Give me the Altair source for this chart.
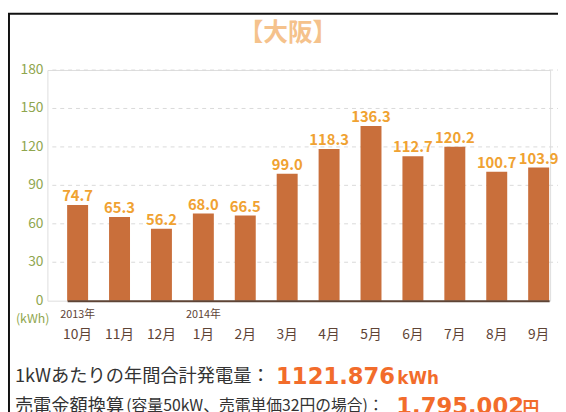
import altair as alt
import pandas as pd

months = ["10月", "11月", "12月", "1月", "2月", "3月", "4月", "5月", "6月", "7月", "8月", "9月"]
values = [74.7, 65.3, 56.2, 68.0, 66.5, 99.0, 118.3, 136.3, 112.7, 120.2, 100.7, 103.9]
y_ticks = [0, 30, 60, 90, 120, 150, 180]
grid_ticks = [30, 60, 90, 120, 150, 180]
year_months = ["10月", "1月"]
year_labels = ["2013年", "2014年"]
title_text = "【大阪】"
unit_text = "(kWh)"
line1_label = "1kWあたりの年間合計発電量："
line1_value = "1121.876"
line1_unit = "kWh"
line2_label = "売電金額換算"
line2_note = "(容量50kW、売電単価32円の場合)："
line2_value = "1,795,002"
line2_unit = "円"

FONT = "Noto Sans CJK JP"
NUMFONT = "DejaVu Sans"
BAR = "#C96F3B"
LABEL = "#F0A232"
GREEN = "#8FA64E"
BROWN = "#5E4436"
HILITE = "#F26C2B"

df = pd.DataFrame({"month": months, "value": values})
ydf = pd.DataFrame({"month": year_months, "year": year_labels})
gdf = pd.DataFrame({"tick": grid_ticks})
tdf = pd.DataFrame({"tick": y_ticks})
one = pd.DataFrame({"k": [0]})

xscale = alt.Scale(domain=months, range=[20, 509], paddingInner=0.5, paddingOuter=0)
yscale = alt.Scale(domain=[0, 180])

base = alt.Chart(df)

grid = alt.Chart(gdf).mark_rule(color="#D9D9D9", strokeDash=[4, 4], strokeWidth=1).encode(
    y=alt.Y("tick:Q", scale=yscale, axis=None),
    x=alt.value(5), x2=alt.value(518),
)

ylabels = alt.Chart(tdf).mark_text(color=GREEN, fontSize=14, font=FONT, align="right",
                                   baseline="middle").encode(
    y=alt.Y("tick:Q", scale=yscale, axis=None),
    x=alt.value(-4),
    text=alt.Text("tick:Q", format="d"),
)

bars = base.mark_bar(color=BAR).encode(
    x=alt.X("month:N", sort=months, scale=xscale,
            axis=alt.Axis(title=None, labelAngle=0, ticks=False, domainColor=BROWN,
                          domainWidth=2, labelColor=BROWN, labelFontSize=14,
                          labelFont=FONT, labelPadding=27, grid=False, zindex=1)),
    y=alt.Y("value:Q", scale=yscale, axis=None),
)

labels = base.mark_text(color=LABEL, fontSize=15, fontWeight="bold", font=FONT,
                        baseline="alphabetic", dy=-4).encode(
    x=alt.X("month:N", sort=months, scale=xscale),
    y=alt.Y("value:Q", scale=yscale),
    text=alt.Text("value:Q", format=".1f"),
)

years = alt.Chart(ydf).mark_text(color=BROWN, fontSize=11, font=FONT, baseline="middle").encode(
    x=alt.X("month:N", sort=months, scale=xscale),
    y=alt.value(249),
    text="year:N",
)

def txt(s, x, y, size, color, weight="normal", align="left", baseline="middle", font=FONT):
    return alt.Chart(pd.DataFrame({"t": [s]})).mark_text(
        fontSize=size, color=color, fontWeight=weight, font=font, align=align, baseline=baseline
    ).encode(x=alt.value(x), y=alt.value(y), text="t:N")

title = txt(title_text, 244, -37, 25, "#F5C28C", "bold", "center")
unit = txt(unit_text, -15, 253, 12.5, GREEN, "normal", "center")
l1a = txt(line1_label, -33, 311, 18.5, "#333333")
l1b = txt(line1_value, 232, 312, 23, HILITE, "bold", font=NUMFONT)
l1c = txt(line1_unit, 355, 314, 17, HILITE, "bold", font=NUMFONT)
l2a = txt(line2_label, -33, 341, 18.5, "#333333")
l2n = txt(line2_note, 80, 341, 16, "#333333")
l2b = txt(line2_value, 354, 342, 23, HILITE, "bold", font=NUMFONT)
l2c = txt(line2_unit, 482, 344, 17, HILITE, "bold")

border_top = alt.Chart(one).mark_rule(color="#111111", strokeWidth=2).encode(
    x=alt.value(-40), x2=alt.value(600), y=alt.value(-57))
border_left = alt.Chart(one).mark_rule(color="#111111", strokeWidth=2).encode(
    x=alt.value(-39), y=alt.value(-57), y2=alt.value(400))

chart = alt.layer(
    grid, ylabels, bars, labels, years, title, unit, l1a, l1b, l1c, l2a, l2n, l2b, l2c,
    border_top, border_left
).properties(
    width=510, height=234,
    autosize=alt.AutoSizeParams(type="none"),
    padding={"left": 40, "top": 60, "right": 8, "bottom": 110},
).configure_view(stroke=None).configure(background="white")

chart.save("out.html", embed_options={"renderer": "svg", "actions": False})
